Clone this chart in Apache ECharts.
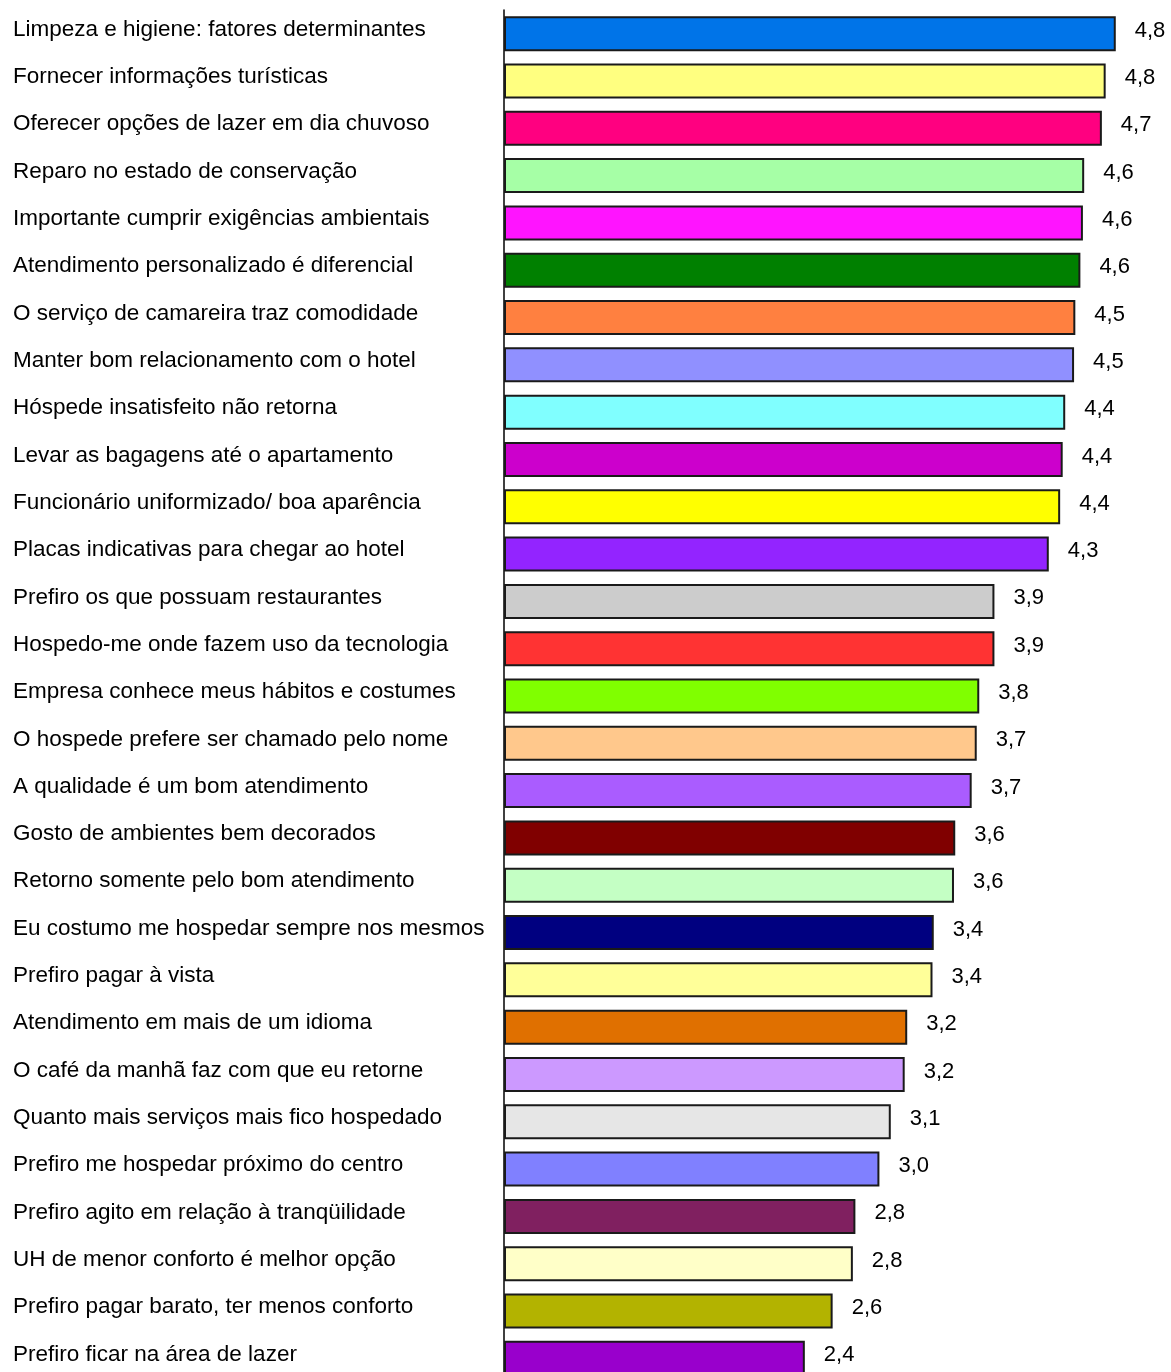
<!DOCTYPE html>
<html>
<head>
<meta charset="utf-8">
<script src="https://cdn.jsdelivr.net/npm/echarts@6/dist/echarts.min.js"></script>
<style>
  html, body { margin: 0; padding: 0; background: #fff; overflow: hidden; }
  /* drawing surface is a little taller than the window: the last row is cut by the page edge */
  #chart { width: 1171px; height: 1392px; }
</style>
</head>
<body>
<div id="chart"></div>
<script>
// Survey items, top to bottom (mean agreement score, 0–5 scale)
const categories = [
  'Limpeza e higiene: fatores determinantes',
  'Fornecer informações turísticas',
  'Oferecer opções de lazer em dia chuvoso',
  'Reparo no estado de conservação',
  'Importante cumprir exigências ambientais',
  'Atendimento personalizado é diferencial',
  'O serviço de camareira traz comodidade',
  'Manter bom relacionamento com o hotel',
  'Hóspede insatisfeito não retorna',
  'Levar as bagagens até o apartamento',
  'Funcionário uniformizado/ boa aparência',
  'Placas indicativas para chegar ao hotel',
  'Prefiro os que possuam restaurantes',
  'Hospedo-me onde fazem uso da tecnologia',
  'Empresa conhece meus hábitos e costumes',
  'O hospede prefere ser chamado pelo nome',
  'A qualidade é um bom atendimento',
  'Gosto de ambientes bem decorados',
  'Retorno somente pelo bom atendimento',
  'Eu costumo me hospedar sempre nos mesmos',
  'Prefiro pagar à vista',
  'Atendimento em mais de um idioma',
  'O café da manhã faz com que eu retorne',
  'Quanto mais serviços mais fico hospedado',
  'Prefiro me hospedar próximo do centro',
  'Prefiro agito em relação à tranqüilidade',
  'UH de menor conforto é melhor opção',
  'Prefiro pagar barato, ter menos conforto',
  'Prefiro ficar na área de lazer'
];

const scores = [
  4.84, 4.76, 4.73, 4.59, 4.58, 4.56, 4.52, 4.51, 4.44, 4.42,
  4.40, 4.31, 3.88, 3.88, 3.76, 3.74, 3.70, 3.57, 3.56, 3.40,
  3.39, 3.19, 3.17, 3.06, 2.97, 2.78, 2.76, 2.60, 2.38
];

const barColors = [
  '#0074E8', '#FFFF80', '#FF0080', '#A6FFA6', '#FF14FF', '#008000',
  '#FF8040', '#9090FF', '#80FFFF', '#CC00CC', '#FFFF00', '#9324FF',
  '#CCCCCC', '#FF3333', '#80FF00', '#FFC88C', '#AA5CFF', '#800000',
  '#C4FFC4', '#000080', '#FFFF99', '#E07000', '#CC99FF', '#E6E6E6',
  '#8080FF', '#802060', '#FFFFC8', '#B3B300', '#9900CC'
];

const fontFamily = '"Liberation Sans", Arial, sans-serif';

// one decimal, comma separator
const fmt = v => (Math.round(v * 10 + 1e-6) / 10).toFixed(1).replace('.', ',');

const chart = echarts.init(document.getElementById('chart'), null, { renderer: 'canvas' });

chart.setOption({
  animation: false,
  backgroundColor: '#ffffff',
  grid: {
    left: 504, top: 10, width: 632, height: 1372,
    containLabel: false,
    outerBoundsMode: 'none'
  },
  xAxis: {
    type: 'value',
    min: 0,
    max: 5,
    show: false
  },
  yAxis: {
    type: 'category',
    inverse: true,
    data: categories,
    axisLine: { show: true, lineStyle: { color: '#000', width: 1.5 } },
    axisTick: { show: false },
    splitLine: { show: false },
    axisLabel: {
      align: 'left',
      verticalAlign: 'bottom',
      lineHeight: 8,
      margin: 491,
      color: '#000',
      fontSize: 22.5,
      fontFamily: fontFamily
    }
  },
  series: [{
    type: 'bar',
    data: scores.map((v, i) => ({ value: v, itemStyle: { color: barColors[i] } })),
    barWidth: 35,
    itemStyle: { borderColor: '#1a1a1a', borderWidth: 2 },
    label: {
      show: true,
      position: 'right',
      distance: 19,
      offset: [0, -3],
      color: '#000',
      fontSize: 22,
      fontFamily: fontFamily,
      formatter: p => fmt(p.value)
    }
  }]
});
</script>
</body>
</html>
